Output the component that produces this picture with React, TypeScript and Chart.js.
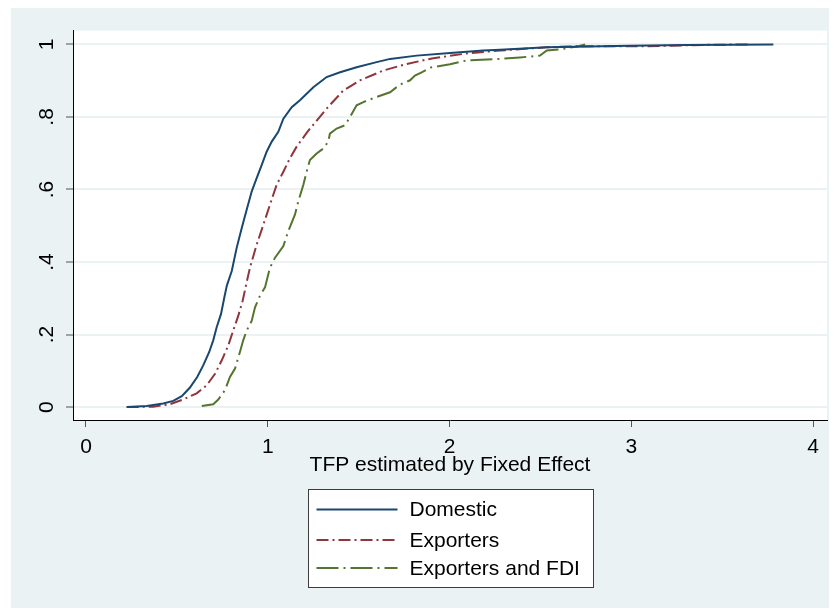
import React, { useEffect, useRef } from "react";
import { Chart, registerables } from "chart.js";

Chart.register(...registerables);

// ---- Data ----
const domesticX = [0.224, 0.334, 0.425, 0.48, 0.527, 0.572, 0.612, 0.645, 0.678, 0.7, 0.719, 0.743, 0.761, 0.775, 0.802, 0.829, 0.857, 0.884, 0.912, 0.939, 0.967, 0.994, 1.022, 1.058, 1.086, 1.132, 1.177, 1.251, 1.324, 1.398, 1.489, 1.599, 1.673, 1.819, 2.003, 2.186, 2.278, 2.535, 2.993, 3.305, 3.782];
const domesticY = [0.0, 0.003, 0.01, 0.017, 0.03, 0.054, 0.083, 0.115, 0.152, 0.184, 0.22, 0.257, 0.302, 0.335, 0.375, 0.439, 0.494, 0.544, 0.595, 0.631, 0.668, 0.704, 0.732, 0.759, 0.795, 0.827, 0.846, 0.882, 0.91, 0.923, 0.937, 0.951, 0.96, 0.969, 0.976, 0.983, 0.985, 0.992, 0.996, 0.998, 1.0];

const exportersX = [0.224, 0.37, 0.462, 0.535, 0.609, 0.664, 0.71, 0.747, 0.783, 0.81, 0.838, 0.862, 0.88, 0.902, 0.939, 0.976, 1.012, 1.049, 1.086, 1.122, 1.159, 1.22, 1.324, 1.416, 1.508, 1.636, 1.764, 1.911, 2.095, 2.278, 2.535, 2.718, 3.085, 3.45, 3.66];
const exportersY = [0.0, 0.001, 0.008, 0.021, 0.038, 0.06, 0.092, 0.129, 0.17, 0.211, 0.252, 0.293, 0.335, 0.384, 0.448, 0.503, 0.558, 0.613, 0.649, 0.686, 0.718, 0.76, 0.823, 0.873, 0.901, 0.928, 0.946, 0.962, 0.975, 0.983, 0.992, 0.995, 0.995, 0.999, 1.0];

const fdiX = [0.637, 0.7, 0.728, 0.765, 0.792, 0.82, 0.847, 0.865, 0.884, 0.912, 0.93, 0.957, 0.985, 1.012, 1.04, 1.086, 1.113, 1.15, 1.168, 1.196, 1.214, 1.232, 1.269, 1.306, 1.333, 1.342, 1.379, 1.425, 1.453, 1.489, 1.526, 1.599, 1.673, 1.709, 1.737, 1.783, 1.81, 1.847, 1.902, 2.003, 2.095, 2.278, 2.388, 2.498, 2.535, 2.608, 2.709, 2.746];
const fdiY = [0.003, 0.008, 0.021, 0.047, 0.083, 0.106, 0.152, 0.184, 0.211, 0.238, 0.275, 0.307, 0.33, 0.384, 0.412, 0.444, 0.485, 0.531, 0.567, 0.613, 0.649, 0.681, 0.699, 0.713, 0.732, 0.754, 0.768, 0.777, 0.8, 0.832, 0.841, 0.855, 0.868, 0.882, 0.891, 0.901, 0.914, 0.923, 0.937, 0.945, 0.956, 0.96, 0.964, 0.969, 0.983, 0.986, 0.995, 1.0];

const seriesNames = ["Domestic", "Exporters", "Exporters and FDI"];
const xTicks = [0, 1, 2, 3, 4];
const xTickLabels = ["0", "1", "2", "3", "4"];
const yTicks = [0, 0.2, 0.4, 0.6, 0.8, 1];
const yTickLabels = ["0", ".2", ".4", ".6", ".8", "1"];
const xTitle = "TFP estimated by Fixed Effect";

// ---- Styles ----
const FONT = '"Liberation Sans", Arial, sans-serif';
const BG = "#eaf2f3";
const colors = ["#1a476f", "#90353b", "#55752f"];
const dashes: number[][] = [[], [12, 4, 2, 4], [22, 5, 2, 5]];

const toPoints = (xs: number[], ys: number[]) => xs.map((x, i) => ({ x, y: ys[i] }));

const decorPlugin = {
  id: "decor",
  beforeDraw(chart: any) {
    const { ctx, chartArea } = chart;
    ctx.save();
    ctx.fillStyle = BG;
    ctx.fillRect(0, 0, chart.width, chart.height);
    ctx.fillStyle = "#ffffff";
    ctx.fillRect(chartArea.left, chartArea.top, chartArea.right - chartArea.left, chartArea.bottom - chartArea.top);
    ctx.restore();
  },
  afterDraw(chart: any) {
    const { ctx, chartArea } = chart;
    const cx = (chartArea.left + chartArea.right) / 2;
    ctx.save();
    // axis title
    ctx.fillStyle = "#000";
    ctx.font = `21px ${FONT}`;
    ctx.textAlign = "center";
    ctx.textBaseline = "middle";
    ctx.fillText(xTitle, cx, chartArea.bottom + 45);

    // legend
    const boxW = 285;
    const boxH = 98;
    const left = Math.round(cx - boxW / 2) + 0.5;
    const top = chartArea.bottom + 69.5;
    ctx.fillStyle = "#ffffff";
    ctx.fillRect(left, top, boxW, boxH);
    ctx.strokeStyle = "#3c3c3c";
    ctx.lineWidth = 1;
    ctx.setLineDash([]);
    ctx.strokeRect(left, top, boxW, boxH);
    const rows = [20, 50.5, 78.5];
    seriesNames.forEach((name, i) => {
      const y = top + rows[i];
      ctx.strokeStyle = colors[i];
      ctx.lineWidth = 2;
      ctx.setLineDash(dashes[i]);
      ctx.beginPath();
      ctx.moveTo(left + 8, y);
      ctx.lineTo(left + 89, y);
      ctx.stroke();
      ctx.setLineDash([]);
      ctx.fillStyle = "#000";
      ctx.textAlign = "left";
      ctx.textBaseline = "middle";
      ctx.font = `21px ${FONT}`;
      ctx.fillText(name, left + 101, y + 1);
    });
    ctx.restore();
  },
};

export default function App() {
  const ref = useRef<HTMLCanvasElement | null>(null);

  useEffect(() => {
    if (!ref.current) return;
    const seriesX = [domesticX, exportersX, fdiX];
    const seriesY = [domesticY, exportersY, fdiY];
    const chart = new Chart(ref.current, {
      type: "scatter",
      data: {
        datasets: seriesNames.map((name, i) => ({
          label: name,
          data: toPoints(seriesX[i], seriesY[i]),
          showLine: true,
          borderColor: colors[i],
          backgroundColor: colors[i],
          borderWidth: 2,
          borderDash: dashes[i],
          pointRadius: 0,
          tension: 0,
          fill: false,
        })),
      },
      options: {
        responsive: false,
        animation: false,
        events: [],
        layout: { padding: { top: 20, right: 10, left: 0, bottom: 0 } },
        plugins: { legend: { display: false }, tooltip: { enabled: false } },
        scales: {
          x: {
            type: "linear",
            min: -0.0715,
            max: 4.077,
            afterBuildTicks: (s: any) => {
              s.ticks = xTicks.map((v) => ({ value: v }));
            },
            afterFit: (s: any) => {
              s.height = 188;
            },
            grid: { drawOnChartArea: false, drawTicks: true, tickLength: 7, tickColor: "#555", tickWidth: 1 },
            border: { display: true, color: "#000", width: 1 },
            ticks: {
              color: "#000",
              font: { family: FONT, size: 21 },
              padding: 8,
              maxRotation: 0,
              minRotation: 0,
              callback: (v: any) => {
                const i = xTicks.findIndex((t) => Math.abs(t - v) < 1e-9);
                return i >= 0 ? xTickLabels[i] : "";
              },
            },
          },
          y: {
            type: "linear",
            min: -0.0356,
            max: 1.038,
            afterBuildTicks: (s: any) => {
              s.ticks = yTicks.map((v) => ({ value: v }));
            },
            afterFit: (s: any) => {
              s.width = 62;
            },
            grid: { color: BG, lineWidth: 2, drawTicks: true, tickLength: 7, tickColor: "#555", tickWidth: 1 },
            border: { display: true, color: "#000", width: 1 },
            ticks: {
              color: "#000",
              font: { family: FONT, size: 21 },
              padding: 10,
              minRotation: 90,
              maxRotation: 90,
              crossAlign: "center",
              callback: (v: any) => {
                const i = yTicks.findIndex((t) => Math.abs(t - v) < 1e-9);
                return i >= 0 ? yTickLabels[i] : "";
              },
            },
          },
        },
      },
      plugins: [decorPlugin],
    } as any);
    return () => chart.destroy();
  }, []);

  return (
    <div style={{ marginLeft: 3, width: 826, height: 600 }}>
      <canvas ref={ref} width={826} height={600} style={{ display: "block", width: 826, height: 600 }} />
    </div>
  );
}
